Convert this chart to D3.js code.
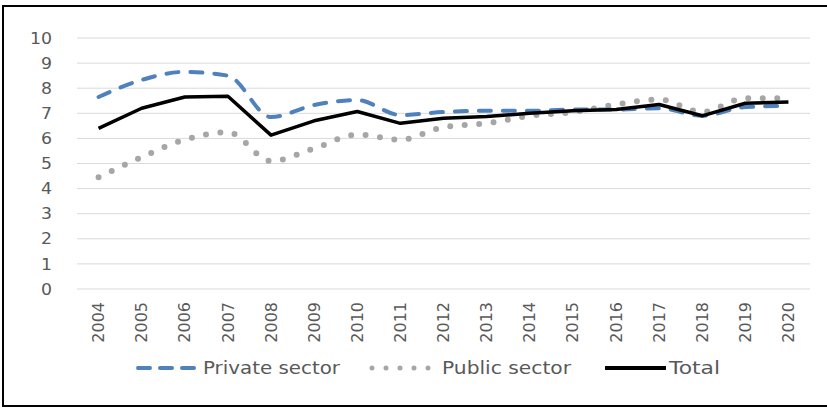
<!DOCTYPE html>
<html><head><meta charset="utf-8">
<script src="https://cdn.jsdelivr.net/npm/d3@7"></script>
<style>body{margin:0;background:#fff}svg{display:block}</style>
</head><body>
<script>
const years = ["2004","2005","2006","2007","2008","2009","2010","2011","2012","2013","2014","2015","2016","2017","2018","2019","2020"];
const privateSector = [7.65,8.33,8.65,8.5,6.85,7.33,7.53,6.93,7.05,7.1,7.1,7.15,7.15,7.2,6.9,7.25,7.3];
const publicSector = [4.45,5.25,5.95,6.25,5.1,5.6,6.15,5.95,6.45,6.6,6.9,7.05,7.35,7.55,7.05,7.6,7.6];
const total = [6.4,7.2,7.65,7.68,6.13,6.7,7.07,6.6,6.8,6.87,7.0,7.1,7.15,7.35,6.9,7.4,7.45];
const yTicks = [0,1,2,3,4,5,6,7,8,9,10];
const seriesNames = ["Private sector","Public sector","Total"];

const W = 827, H = 408;
const svg = d3.select("body").append("svg").attr("width", W).attr("height", H);
svg.append("rect").attr("x",3).attr("y",6).attr("width",W+5).attr("height",400)
  .attr("fill","#fff").attr("stroke","#000").attr("stroke-width",2);

const x = d3.scaleBand().domain(years).range([77, 810]);
const y = d3.scaleLinear().domain([0, 10]).range([289, 38]);
const font = "'DejaVu Sans', 'Open Sans', sans-serif";

const grid = svg.append("g");
grid.selectAll("line").data(yTicks).join("line")
  .attr("x1", 77).attr("x2", 810)
  .attr("y1", d => y(d)).attr("y2", d => y(d))
  .attr("stroke", "#d9d9d9").attr("stroke-width", 1);

const yAxis = svg.append("g").attr("transform", "translate(60,0)")
  .call(d3.axisLeft(y).tickValues(yTicks).tickSize(0).tickPadding(8));
yAxis.select(".domain").remove();
yAxis.selectAll("text").attr("font-family", font).attr("font-size", 16).attr("fill", "#595959")
  .attr("textLength", d => String(d).length * 11).attr("lengthAdjust", "spacingAndGlyphs");

const xAxis = svg.append("g").attr("transform", "translate(0,289)")
  .call(d3.axisBottom(x).tickSize(0));
xAxis.select(".domain").remove();
xAxis.selectAll("text")
  .attr("font-family", font).attr("font-size", 16).attr("fill", "#595959")
  .attr("transform", "rotate(-90)")
  .attr("text-anchor", "end").attr("dy", "0.35em").attr("x", -13).attr("y", 0);

const cx = d => x(d) + x.bandwidth() / 2;
const line = d3.line().x((d, i) => cx(years[i])).y(d => y(d));
const smooth = d3.line().x((d, i) => cx(years[i])).y(d => y(d)).curve(d3.curveMonotoneX);

svg.append("path").datum(publicSector).attr("d", smooth)
  .attr("fill", "none").attr("stroke", "#a6a6a6").attr("stroke-width", 6)
  .attr("stroke-linecap", "round").attr("stroke-dasharray", "0 14.5");
svg.append("path").datum(privateSector).attr("d", smooth)
  .attr("fill", "none").attr("stroke", "#4f81bd").attr("stroke-width", 4)
  .attr("stroke-linecap", "round").attr("stroke-dasharray", "12 12");
svg.append("path").datum(total).attr("d", line)
  .attr("fill", "none").attr("stroke", "#000").attr("stroke-width", 3.5)
  .attr("stroke-linejoin", "round");

// legend
const leg = svg.append("g");
const ly = 368;
const legLen = [137, 129, 51];
leg.append("line").attr("x1", 138).attr("x2", 195).attr("y1", ly).attr("y2", ly)
  .attr("stroke", "#4f81bd").attr("stroke-width", 4).attr("stroke-linecap", "round")
  .attr("stroke-dasharray", "12 10");
leg.append("text").attr("x", 203).attr("y", ly).attr("dy", "0.35em").text(seriesNames[0]).attr("textLength", legLen[0]);
leg.append("line").attr("x1", 372).attr("x2", 430).attr("y1", ly).attr("y2", ly)
  .attr("stroke", "#a6a6a6").attr("stroke-width", 5).attr("stroke-linecap", "round")
  .attr("stroke-dasharray", "0 14");
leg.append("text").attr("x", 442).attr("y", ly).attr("dy", "0.35em").text(seriesNames[1]).attr("textLength", legLen[1]);
leg.append("line").attr("x1", 605).attr("x2", 666).attr("y1", ly).attr("y2", ly)
  .attr("stroke", "#000").attr("stroke-width", 4);
leg.append("text").attr("x", 669).attr("y", ly).attr("dy", "0.35em").text(seriesNames[2]).attr("textLength", legLen[2]);
leg.selectAll("text").attr("font-family", font).attr("font-size", 17).attr("fill", "#595959")
  .attr("lengthAdjust", "spacingAndGlyphs");
</script>
</body></html>
